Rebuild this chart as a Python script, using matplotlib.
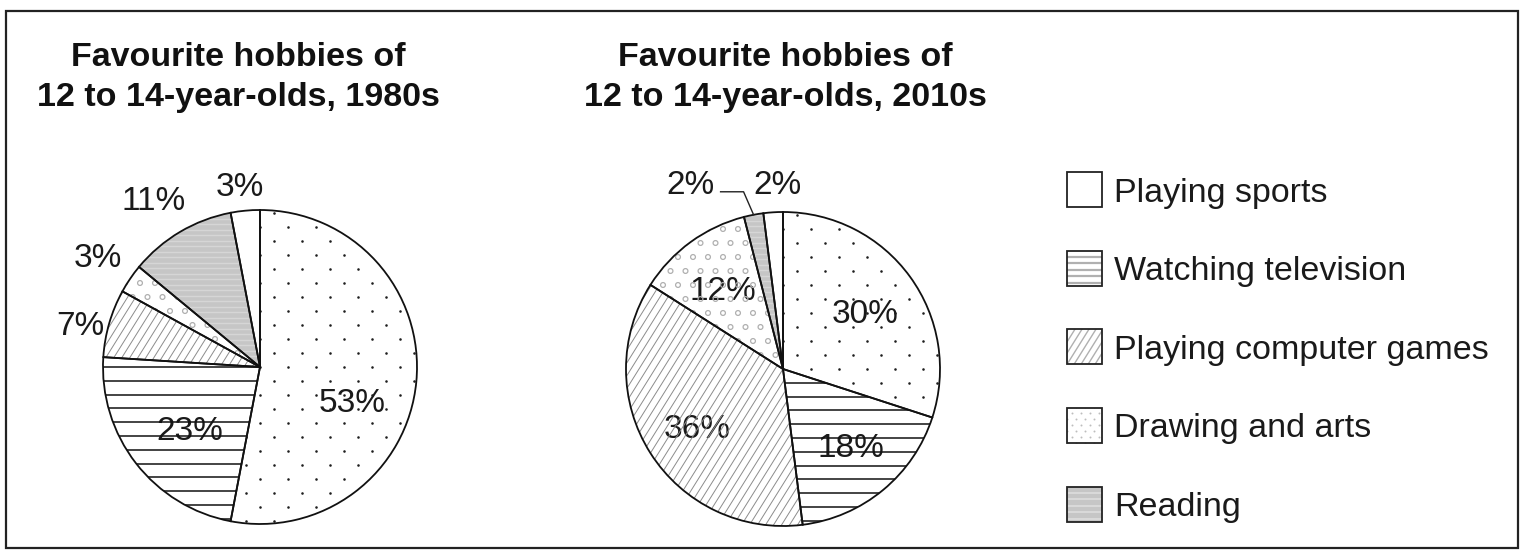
import matplotlib
matplotlib.use("Agg")
import matplotlib.pyplot as plt
import numpy as np
from matplotlib.collections import LineCollection
from matplotlib.patches import Rectangle

# ---------------- data ----------------
categories = ["Playing sports", "Watching television", "Playing computer games",
              "Drawing and arts", "Reading"]
# slices clockwise from 12 o'clock (last one is the small unlabelled white slice)
slice_names = ["Playing sports", "Watching television", "Playing computer games",
               "Drawing and arts", "Reading", "Other"]
values_1980s = [53, 23, 7, 3, 11, 3]
values_2010s = [30, 18, 36, 12, 2, 2]
titles = [["Favourite hobbies of", "12 to 14-year-olds, 1980s"],
          ["Favourite hobbies of", "12 to 14-year-olds, 2010s"]]

# ---------------- layout / style ----------------
W, H = 1524, 558
def Y(y):  # image-row to data-y
    return H - y

FONT = "Liberation Sans"
R = 157
centers = [(260, Y(367)), (783, Y(369))]
title_x = [238, 785]
title_baselines = [66, 106]
# label offsets (in radius units) from each pie centre
label_offsets = [
    [(0.59, -0.21), (-0.446, -0.389), (-1.146, 0.28), (-1.03, 0.713), (-0.68, 1.076), (-0.127, 1.166)],
    [(0.522, 0.369), (0.433, -0.484), (-0.548, -0.363), (-0.382, 0.516), (-0.586, 1.191), (-0.038, 1.191)],
]
slice_style = {"Playing sports": "dots", "Watching television": "hlines",
               "Playing computer games": "diag", "Drawing and arts": "circles",
               "Reading": "gray", "Other": "white"}
legend_style = {"Playing sports": "white", "Watching television": "hlines_light",
                "Playing computer games": "diag_small", "Drawing and arts": "dots_light",
                "Reading": "gray_small"}
GRAY = "#c6c6c6"


def texture(ax, patch, style, anchor):
    ext = patch.get_path().get_extents(patch.get_patch_transform())
    x0, y0, x1, y1 = ext.x0, ext.y0, ext.x1, ext.y1
    axx, ayy = anchor
    arts = []

    def lattice(dx, dy, stagger):
        pts = []
        for k in range(int(np.floor((y0 - ayy) / dy)) - 1, int(np.ceil((y1 - ayy) / dy)) + 2):
            y = ayy + k * dy
            off = (k % 2) * stagger
            for j in range(int(np.floor((x0 - axx - off) / dx)) - 1,
                           int(np.ceil((x1 - axx - off) / dx)) + 2):
                pts.append((axx + off + j * dx, y))
        return np.array(pts)

    def hl(sp, color, lw, phase=0.0):
        segs = []
        for k in range(int(np.floor((y0 - ayy) / sp)) - 1, int(np.ceil((y1 - ayy) / sp)) + 2):
            y = ayy + phase + k * sp
            segs.append([(x0 - 5, y), (x1 + 5, y)])
        return ax.add_collection(LineCollection(segs, colors=color, linewidths=lw, zorder=3),
                                 autolim=False)

    def dg(sp, color, lw, ang=58):
        t = 1 / np.tan(np.radians(ang))
        segs = []
        kmin = int(np.floor((x0 - (y1 - ayy) * t - axx) / sp)) - 1
        kmax = int(np.ceil((x1 - (y0 - ayy) * t - axx) / sp)) + 1
        for k in range(kmin, kmax + 1):
            xb = axx + k * sp
            segs.append([(xb + (y0 - 5 - ayy) * t, y0 - 5), (xb + (y1 + 5 - ayy) * t, y1 + 5)])
        return ax.add_collection(LineCollection(segs, colors=color, linewidths=lw, zorder=3),
                                 autolim=False)

    if style == "dots":
        p = lattice(28, 14, 14)
        arts.append(ax.scatter(p[:, 0], p[:, 1], s=3.4, c="#1e1e1e", linewidths=0, zorder=3))
    elif style == "dots_light":
        p = lattice(9, 6, 4.5)
        arts.append(ax.scatter(p[:, 0], p[:, 1], s=2.0, c="#bdbdbd", linewidths=0, zorder=3))
    elif style == "circles":
        p = lattice(15, 14, 7.5)
        arts.append(ax.scatter(p[:, 0], p[:, 1], s=12, facecolors="none",
                               edgecolors="#b0b0b0", linewidths=0.9, zorder=3))
    elif style == "hlines":
        arts.append(hl(13.8, "#111111", 1.1))
    elif style == "hlines_light":
        arts.append(hl(6.5, "#b0b0b0", 1.6, phase=3))
    elif style == "diag":
        arts.append(dg(8.0, "#8c8c8c", 0.7))
    elif style == "diag_small":
        arts.append(dg(7.0, "#b0b0b0", 1.0))
    elif style == "gray":
        arts.append(hl(5.5, "#d6d6d6", 1.0))
    elif style == "gray_small":
        arts.append(hl(6.5, "#dadada", 1.4, phase=3))
    # clip after the artists are in the axes (add_* would otherwise reset the clip)
    for a in arts:
        a.set_clip_path(patch)


fig = plt.figure(figsize=(W / 100, H / 100), dpi=100)
ax = fig.add_axes([0, 0, 1, 1])

for i, vals in enumerate([values_1980s, values_2010s]):
    c = centers[i]
    colors = [GRAY if n == "Reading" else "white" for n in slice_names]
    wedges, _ = ax.pie(vals, startangle=90, counterclock=False, center=c, radius=R,
                       colors=colors, wedgeprops=dict(linewidth=0, zorder=1))
    for w, name in zip(wedges, slice_names):
        texture(ax, w, slice_style[name], c)
    ax.pie(vals, startangle=90, counterclock=False, center=c, radius=R,
           wedgeprops=dict(fill=False, edgecolor="#111111", linewidth=1.3, zorder=5))
    for v, (dx, dy) in zip(vals, label_offsets[i]):
        ax.text(c[0] + dx * R, c[1] + dy * R - 12, f"{v}%", ha="center", va="baseline",
                fontsize=24, family=FONT, color="#1a1a1a", zorder=2)
    for line, yb in zip(titles[i], title_baselines):
        ax.text(title_x[i], Y(yb), line, ha="center", va="baseline", fontsize=24.5,
                fontweight="bold", family=FONT, color="#111111", zorder=6)
    if i == 1:
        # leader line for the small Reading slice
        w = wedges[4]
        th = np.radians((w.theta1 + w.theta2) / 2)
        tip = (c[0] + R * np.cos(th), c[1] + R * np.sin(th))
        elbow = (tip[0] - 10, tip[1] + 23)
        end = (elbow[0] - 23, elbow[1])
        ax.plot([end[0], elbow[0], tip[0]], [end[1], elbow[1], tip[1]],
                color="#222222", lw=1.0, zorder=6)

# legend
for k, cat in enumerate(categories):
    top = 172 + 78.7 * k
    rect = Rectangle((1067, Y(top + 35)), 35, 35, facecolor=GRAY if cat == "Reading" else "white",
                     edgecolor="none", zorder=1)
    ax.add_patch(rect)
    texture(ax, rect, legend_style[cat], (1067, Y(top + 35)))
    ax.add_patch(Rectangle((1067, Y(top + 35)), 35, 35, fill=False, edgecolor="#222222",
                           linewidth=1.3, zorder=5))
    ax.text(1114, Y(201.7 + 78.5 * k), cat, ha="left", va="baseline", fontsize=24.5,
            family=FONT, color="#1a1a1a")

# outer frame
ax.add_patch(Rectangle((6, Y(548)), 1512, 537, fill=False, edgecolor="#222222",
                       linewidth=1.6, zorder=6))

ax.set_xlim(0, W)
ax.set_ylim(0, H)
ax.set_aspect("auto")
ax.axis("off")
fig.savefig("out.png", dpi=100, facecolor="white")
